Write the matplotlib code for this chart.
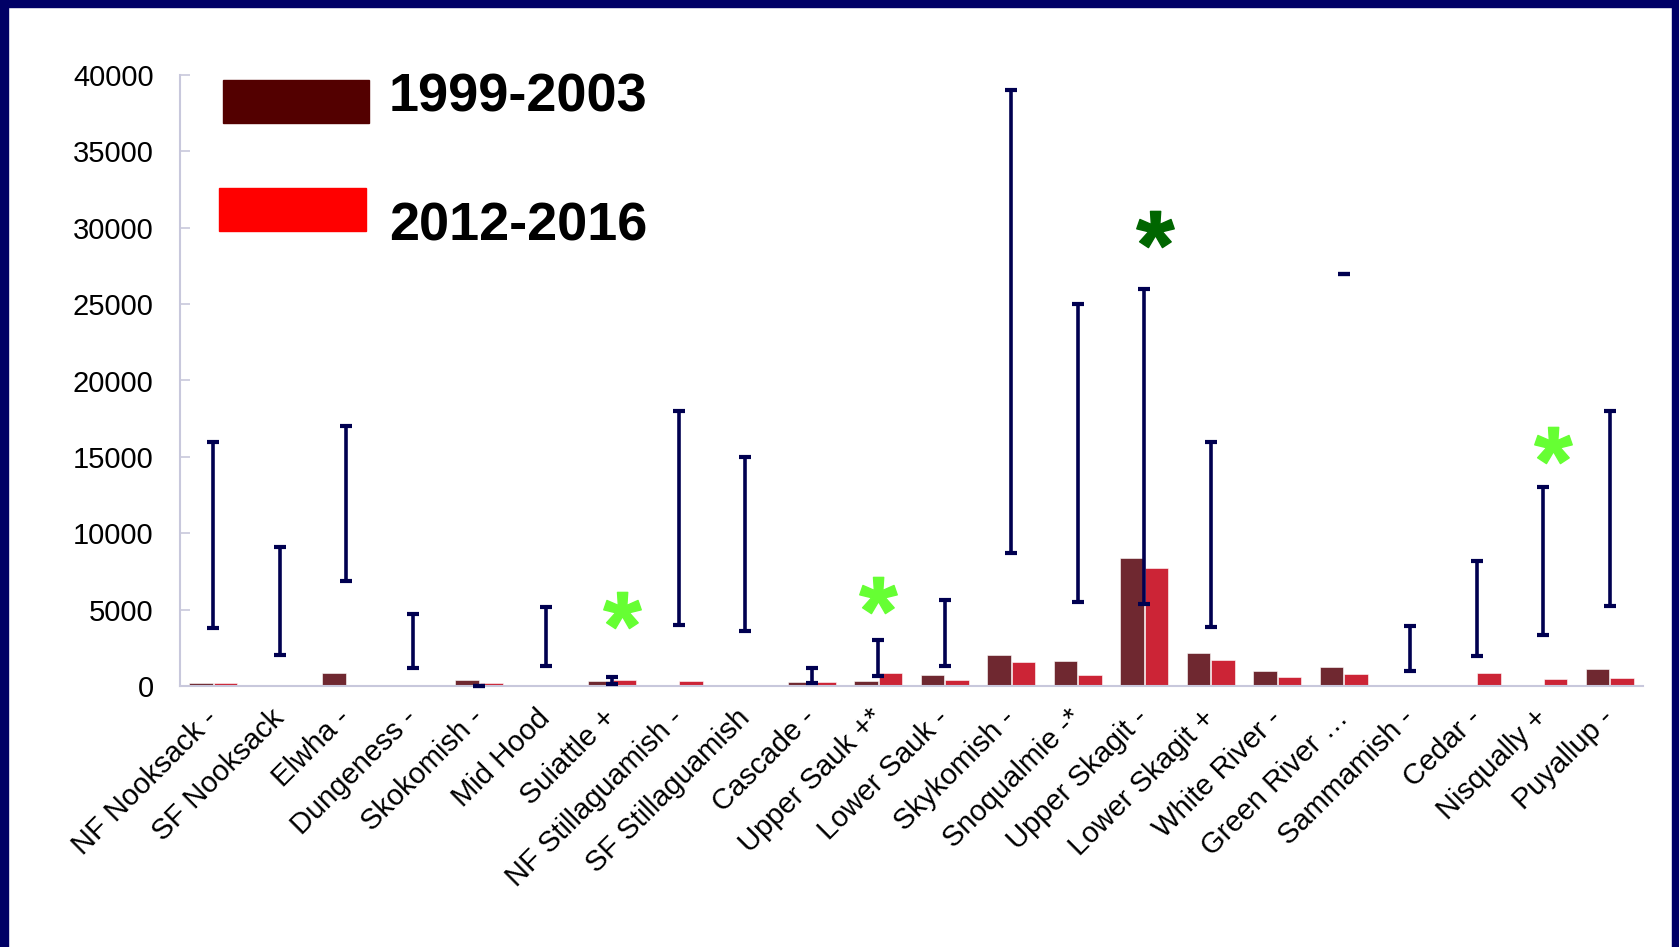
import numpy as np
import matplotlib
matplotlib.use("Agg")
import matplotlib.pyplot as plt
from matplotlib.patches import Rectangle
from matplotlib.textpath import TextPath
from matplotlib.font_manager import FontProperties
from matplotlib.path import Path

plt.rcParams['font.family'] = ['Liberation Sans', 'DejaVu Sans']

# ---- data ----
rivers = ["NF Nooksack -", "SF Nooksack", "Elwha -", "Dungeness -", "Skokomish -",
          "Mid Hood", "Suiattle +", "NF Stillaguamish -", "SF Stillaguamish",
          "Cascade -", "Upper Sauk +*", "Lower Sauk -", "Skykomish -",
          "Snoqualmie -*", "Upper Skagit -", "Lower Skagit +", "White River -",
          "Green River \u2026", "Sammamish -", "Cedar -", "Nisqually +", "Puyallup -"]

early = [170, 90, 850, 50, 400, 0, 350, 0, 0, 280, 300, 750, 2050, 1650,
         8350, 2150, 1000, 1250, 0, 0, 0, 1100]          # 1999-2003
late = [170, 0, 0, 50, 200, 0, 400, 330, 30, 260, 850, 400, 1600, 700,
        7750, 1700, 560, 780, 40, 830, 480, 500]         # 2012-2016

range_lo = [3800, 2000, 6900, 1200, 0, 1300, 100, 4000, 3600, 220, 650, 1300,
            8700, 5500, 5350, 3850, np.nan, 27000, 950, 1950, 3350, 5250]
range_hi = [16000, 9100, 17000, 4700, 0, 5200, 600, 18000, 15000, 1150, 3000, 5600,
            39000, 25000, 26000, 16000, np.nan, 27000, 3900, 8200, 13000, 18000]

star_rivers = ["Suiattle +", "Upper Sauk +*", "Upper Skagit -", "Nisqually +"]
star_vals = [5000, 5950, 29900, 15800]

series_names = ["1999-2003", "2012-2016"]

# ---- styling ----
dark_bar = '#6f2830'
red_bar = '#cc2436'
star_colors = ['#66ff33', '#66ff33', '#006600', '#66ff33']
star_shift = [0.15, 0.0, 0.16, 0.15]
navy = '#000050'
axis_col = '#c8c8dc'

W, H = 1679, 947
fig = plt.figure(figsize=(W / 100, H / 100), dpi=100)
fig.patch.set_facecolor('white')


def fx(px):
    return px / W


def fy(py):
    return 1 - py / H


ax = fig.add_axes([fx(180), fy(686), fx(1643) - fx(180), fy(75) - fy(686)])

x = np.arange(len(rivers))
bw = 0.35
ax.bar(x - 0.185, early, bw, color=dark_bar, edgecolor='white', linewidth=0.4, zorder=2)
ax.bar(x + 0.185, late, bw, color=red_bar, edgecolor='white', linewidth=0.4, zorder=2)

lo = np.array(range_lo)
hi = np.array(range_hi)
mid = (lo + hi) / 2
half = (hi - lo) / 2
eb = ax.errorbar(x, mid, yerr=half, fmt='none', ecolor=navy, elinewidth=2.6,
                 capsize=4.6, capthick=3, zorder=3)
for art in eb.lines[1] + eb.lines[2]:
    art.set_clip_on(False)

# asterisk marker centred on its own glyph (ignore CLOSEPOLY dummy points)
tp = TextPath((0, 0), '*', size=1, prop=FontProperties(family='Liberation Sans', weight='bold'))
verts = tp.vertices.copy()
codes = tp.codes
real = codes != Path.CLOSEPOLY
ctr = (verts[real].min(0) + verts[real].max(0)) / 2
verts = verts - ctr
verts[~real] = 0
star = Path(verts, codes)
for name, val, col, sh in zip(star_rivers, star_vals, star_colors, star_shift):
    i = rivers.index(name)
    ax.plot([i + sh], [val], marker=star, markersize=27, color=col,
            linestyle='none', zorder=4, clip_on=False)

ax.set_xlim(-0.5, len(rivers) - 0.5)
ax.set_ylim(0, 40000)
ax.set_yticks(np.arange(0, 40001, 5000))
ax.set_yticklabels([str(v) for v in range(0, 40001, 5000)], fontsize=21)
ax.set_xticks(x)
ax.set_xticklabels(rivers, fontsize=21, rotation=45, ha='right', va='center',
                   rotation_mode='anchor')
ax.tick_params(axis='y', direction='in', length=7, width=1.2, color=axis_col, pad=19)
ax.tick_params(axis='x', length=0, pad=20)
for s in ['top', 'right']:
    ax.spines[s].set_visible(False)
for s in ['left', 'bottom']:
    ax.spines[s].set_color(axis_col)
    ax.spines[s].set_linewidth(1.5)

# legend: big blocks with bold labels
fig.add_artist(Rectangle((fx(223), fy(123)), fx(369) - fx(223), fy(80) - fy(123),
                         transform=fig.transFigure, color='#530000'))
fig.add_artist(Rectangle((fx(219), fy(231)), fx(366) - fx(219), fy(188) - fy(231),
                         transform=fig.transFigure, color='#ff0000'))
fig.text(fx(389), fy(111), series_names[0], fontsize=39, fontweight='bold', va='baseline')
fig.text(fx(389), fy(240), series_names[1], fontsize=39, fontweight='bold', va='baseline')

# navy frame (top, left, right)
frame = '#000066'
fig.add_artist(Rectangle((0, fy(7)), 1, fy(0) - fy(7), transform=fig.transFigure, color=frame))
fig.add_artist(Rectangle((0, 0), fx(8), 1, transform=fig.transFigure, color=frame))
fig.add_artist(Rectangle((fx(1672), 0), 1 - fx(1672), 1, transform=fig.transFigure, color=frame))

fig.savefig('out.png', dpi=100)
